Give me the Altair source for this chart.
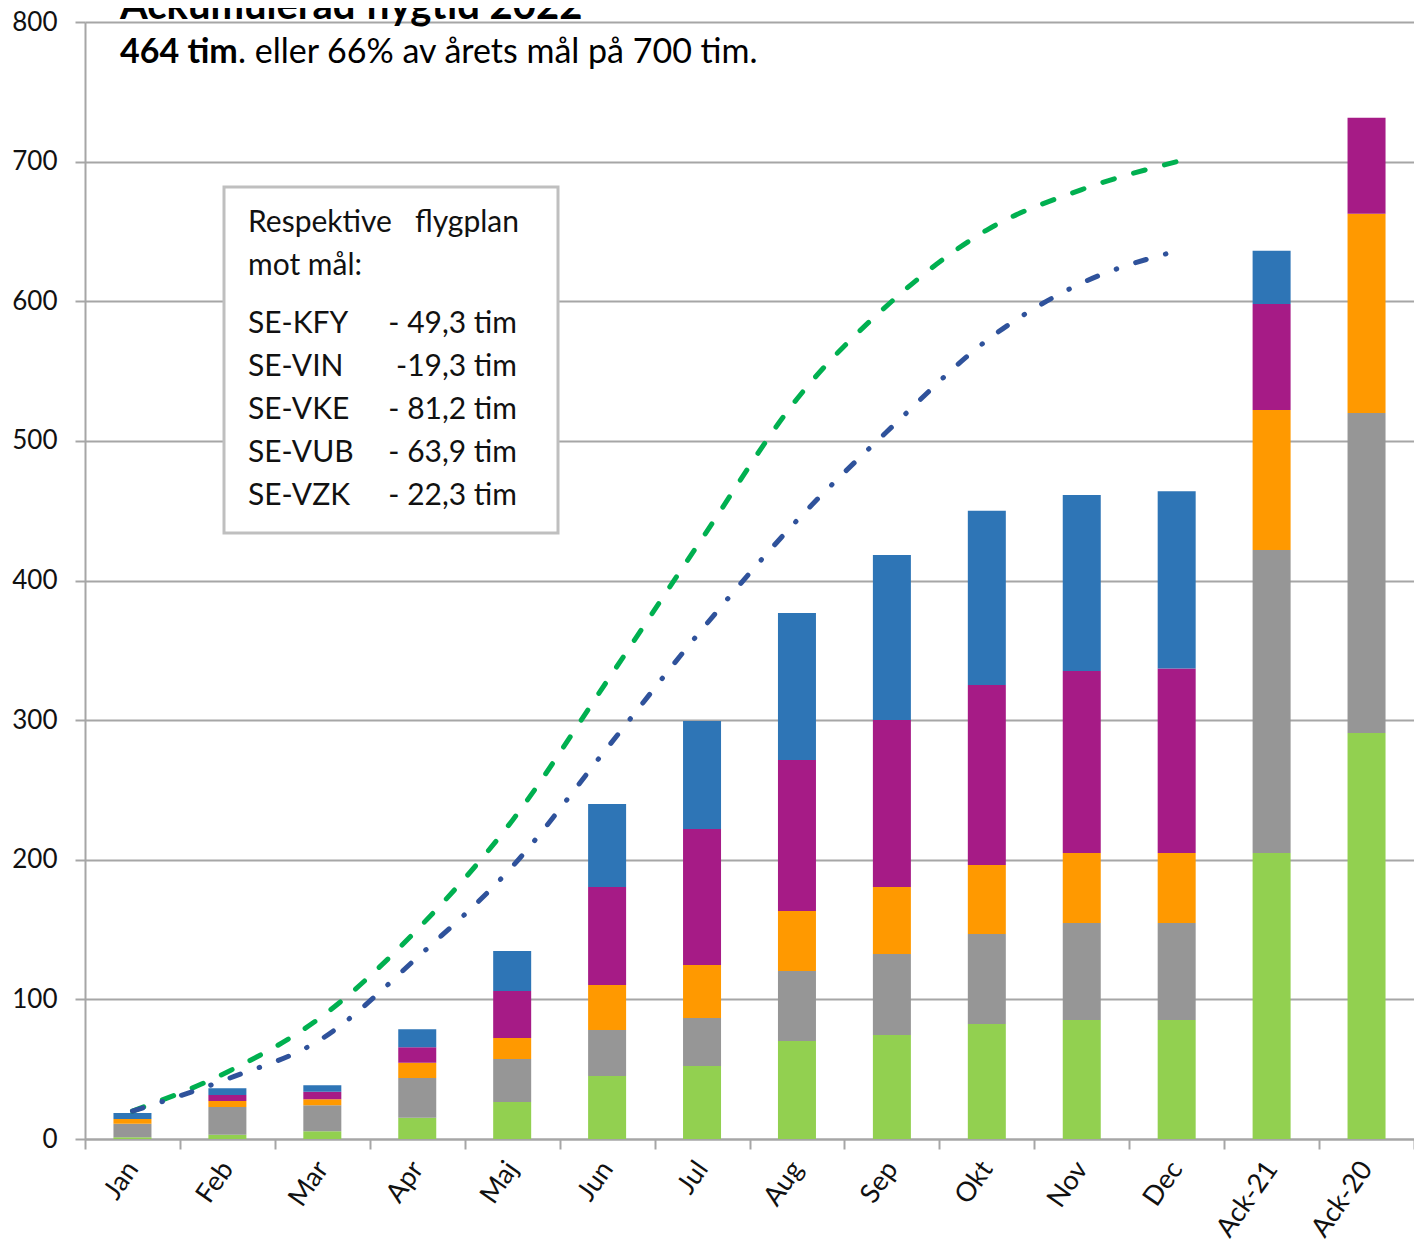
import altair as alt
import pandas as pd

# ---------------- data ----------------
months = ["Jan", "Feb", "Mar", "Apr", "Maj", "Jun", "Jul", "Aug", "Sep", "Okt", "Nov", "Dec", "Ack-21", "Ack-20"]

# stacked segments, bottom to top (hours)
seg_green  = [1.2, 3.1, 5.5, 15.3, 26.5, 45.1, 52.3, 70.2, 74.5, 82.4, 85.2, 85.2, 204.9, 290.8]
seg_gray   = [9.8, 19.8, 18.6, 28.4, 30.8, 32.9, 34.4, 50.1, 58.0, 64.4, 69.5, 69.5, 217.0, 229.2]
seg_orange = [3.3, 4.3, 4.3, 11.0, 15.0, 32.3, 37.9, 43.0, 48.0, 49.5, 50.2, 50.2, 100.3, 142.6]
seg_purple = [0.0, 4.3, 5.5, 11.0, 33.7, 70.2, 97.4, 108.2, 119.6, 128.9, 130.3, 132.0, 75.9, 68.8]
seg_blue   = [4.3, 4.8, 4.6, 12.9, 28.7, 59.5, 77.4, 105.3, 118.2, 124.7, 126.1, 127.1, 38.0, 0.0]

series_names = ["Serie 1", "Serie 2", "Serie 3", "Serie 4", "Serie 5"]
series_colors = ["#92D050", "#969696", "#FF9900", "#A61B86", "#2E75B6"]

# goal curves (cumulative hours per month)
line_months = months[:12]
goal_700 = [20, 48, 88, 150, 228, 328, 430, 530, 600, 651, 680, 700]
goal_plan = [20, 43, 72, 130, 195, 280, 365, 443, 510, 572, 613, 636]

# text
title_text = "Ackumulerad flygtid 2022"
subtitle_bold = "464 tim"
subtitle_rest = ". eller 66% av årets mål på 700 tim."
box_head = ["Respektive\u00a0\u00a0\u00a0flygplan", "mot mål:"]
box_names = ["SE-KFY", "SE-VIN", "SE-VKE", "SE-VUB", "SE-VZK"]
box_values = ["- 49,3 tim", "-19,3 tim", "- 81,2 tim", "- 63,9 tim", "- 22,3 tim"]

FONT = "Lato"
TXT = "#111111"

# ---------------- frames ----------------
rows = []
for si, seg in enumerate([seg_green, seg_gray, seg_orange, seg_purple, seg_blue]):
    for m, v in zip(months, seg):
        rows.append({"month": m, "series": series_names[si], "ord": si, "value": v})
bars_df = pd.DataFrame(rows)

lines_df = pd.DataFrame({"month": line_months, "g700": goal_700, "gplan": goal_plan})

W, H = 1329, 1117

xscale = alt.Scale(domain=months, paddingInner=0, paddingOuter=0)
yscale = alt.Scale(domain=[0, 800], nice=False)

bars = alt.Chart(bars_df).mark_bar(size=38).encode(
    x=alt.X("month:N", scale=xscale, sort=months,
            axis=alt.Axis(title=None, labelAngle=-55, labelFontSize=27, labelFont=FONT,
                          labelColor=TXT, tickBand="extent", tickSize=10,
                          tickColor="#A6A6A6", tickWidth=2, domainColor="#A6A6A6",
                          domainWidth=2, labelPadding=15, grid=False)),
    y=alt.Y("value:Q", scale=yscale, stack="zero",
            axis=alt.Axis(title=None, values=list(range(0, 801, 100)), labelFontSize=26,
                          labelFont=FONT, labelColor=TXT, tickSize=10,
                          tickColor="#A6A6A6", tickWidth=2, domainColor="#A6A6A6",
                          domainWidth=2, gridColor="#A6A6A6", gridWidth=2,
                          labelPadding=18)),
    color=alt.Color("series:N", scale=alt.Scale(domain=series_names, range=series_colors),
                    legend=None),
    order=alt.Order("ord:Q", sort="ascending"),
)

line_green = alt.Chart(lines_df).mark_line(
    color="#00B050", strokeWidth=5, strokeDash=[12, 20], strokeCap="round",
    interpolate="monotone").encode(
    x=alt.X("month:N", scale=xscale, sort=months), y=alt.Y("g700:Q", scale=yscale))

line_blue = alt.Chart(lines_df).mark_line(
    color="#2F529B", strokeWidth=5, strokeDash=[11, 20, 0.5, 20], strokeCap="round",
    interpolate="monotone").encode(
    x=alt.X("month:N", scale=xscale, sort=months), y=alt.Y("gplan:Q", scale=yscale))

one = pd.DataFrame({"a": [0]})

box = alt.Chart(one).mark_rect(fill="white", stroke="#BFBFBF", strokeWidth=3).encode(
    x=alt.value(139), x2=alt.value(473), y=alt.value(165), y2=alt.value(511))

head_df = pd.DataFrame({"t": box_head, "yy": [210, 253]})
head = alt.Chart(head_df).mark_text(align="left", baseline="alphabetic", fontSize=30,
                                    font=FONT, color=TXT).encode(
    x=alt.value(163), y=alt.Y("yy:Q", scale=None), text="t:N")

names_df = pd.DataFrame({"n": box_names, "v": box_values, "yy": [311, 354, 397, 440, 483]})
names = alt.Chart(names_df).mark_text(align="left", baseline="alphabetic", fontSize=30,
                                      font=FONT, color=TXT).encode(
    x=alt.value(163), y=alt.Y("yy:Q", scale=None), text="n:N")
vals = alt.Chart(names_df).mark_text(align="right", baseline="alphabetic", fontSize=30,
                                     font=FONT, color=TXT).encode(
    x=alt.value(432), y=alt.Y("yy:Q", scale=None), text="v:N")

title = alt.Chart(one).mark_text(align="left", baseline="alphabetic", fontSize=40,
                                 fontWeight="bold", font=FONT, color="#000000").encode(
    x=alt.value(35), y=alt.value(-3), text=alt.value(title_text))
sub_b = alt.Chart(one).mark_text(align="left", baseline="alphabetic", fontSize=34,
                                 fontWeight="bold", font=FONT, color="#000000").encode(
    x=alt.value(35), y=alt.value(41), text=alt.value(subtitle_bold))
sub_r = alt.Chart(one).mark_text(align="left", baseline="alphabetic", fontSize=34,
                                 font=FONT, color="#000000").encode(
    x=alt.value(153), y=alt.value(41), text=alt.value(subtitle_rest))

chart = alt.layer(bars, line_green, line_blue, box, head, names, vals, title, sub_b, sub_r).properties(
    width=W, height=H,
    autosize=alt.AutoSizeParams(type="none"),
    padding={"left": 77, "top": 14, "right": 0, "bottom": 107},
    background="white",
).configure_view(stroke=None)

chart.save("out.html", embed_options={"renderer": "svg", "actions": False})
